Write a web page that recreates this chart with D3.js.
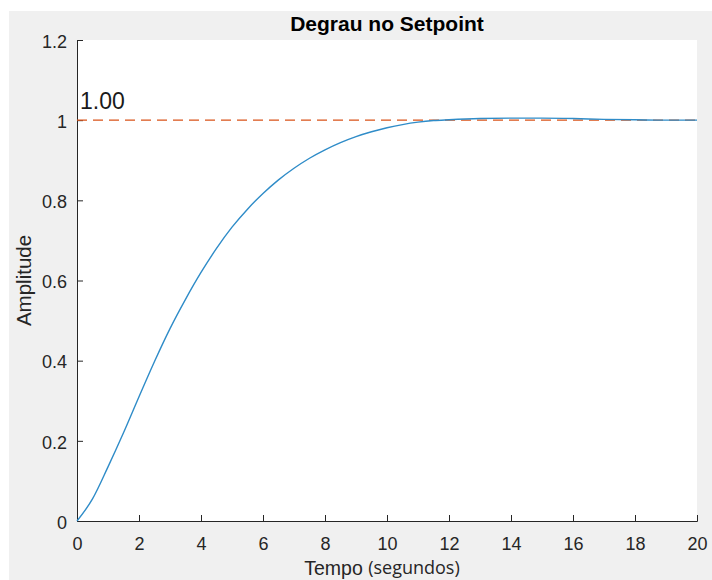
<!DOCTYPE html>
<html>
<head>
<meta charset="utf-8">
<script src="https://cdn.jsdelivr.net/npm/d3@7"></script>
<style>
  body { margin: 0; background: #fff; }
  svg { display: block; }
</style>
</head>
<body>
<div id="chart"></div>
<script>
// step response
var tempo = [0, 0.5, 1, 1.5, 2, 2.5, 3, 3.5, 4, 4.5, 5, 5.5, 6, 6.5, 7, 7.5, 8, 8.5, 9, 9.5,
  10, 10.5, 11, 11.5, 12, 13, 14, 15, 16, 17, 18, 19, 20];
var amplitude = [0, 0.055, 0.135, 0.22, 0.31, 0.398, 0.48, 0.553, 0.62, 0.68, 0.733, 0.778, 0.817,
  0.851, 0.88, 0.905, 0.926, 0.944, 0.959, 0.971, 0.981, 0.989, 0.995, 0.999, 1.001, 1.004, 1.005,
  1.005, 1.004, 1.002, 1.001, 1.0, 1.0];
var setpoint = 1.0;
var xTicks = [0, 2, 4, 6, 8, 10, 12, 14, 16, 18, 20];
var yTicks = [0, 0.2, 0.4, 0.6, 0.8, 1, 1.2];

var width = 712, height = 580;
var margin = { top: 40, right: 15, bottom: 59, left: 77 };
var innerW = width - margin.left - margin.right,
    innerH = height - margin.top - margin.bottom;
var axisColor = "#262626";
var font = "Liberation Sans, Arial, sans-serif";

var svg = d3.select("#chart").append("svg")
  .attr("width", width)
  .attr("height", height);

// figure background
svg.append("rect")
  .attr("x", 9).attr("y", 11)
  .attr("width", width - 9).attr("height", height - 11)
  .attr("fill", "#f0f0f0");

var g = svg.append("g")
  .attr("transform", "translate(" + margin.left + "," + margin.top + ")");

g.append("rect")
  .attr("width", innerW).attr("height", innerH)
  .attr("fill", "#fff");

var x = d3.scaleLinear().domain([0, 20]).range([0, innerW]);
var y = d3.scaleLinear().domain([0, 1.2]).range([innerH, 0]);

var xAxis = g.append("g")
  .attr("transform", "translate(0," + innerH + ")")
  .call(d3.axisBottom(x).tickValues(xTicks).tickSize(-6).tickPadding(16).tickFormat(d3.format("d")));
var yAxis = g.append("g")
  .call(d3.axisLeft(y).tickValues(yTicks).tickSize(-6).tickPadding(10).tickFormat(function(d) { return d3.format("~g")(d); }));

[xAxis, yAxis].forEach(function(a) {
  a.select(".domain").attr("stroke", axisColor).attr("stroke-width", 1);
  a.selectAll(".tick line").attr("stroke", axisColor);
  a.selectAll(".tick text")
    .attr("fill", axisColor)
    .style("font-family", font)
    .style("font-size", "18px");
});
yAxis.selectAll(".tick text").attr("dy", "0.4em");

// setpoint dashed line
g.append("line")
  .attr("x1", x(0)).attr("x2", x(20))
  .attr("y1", y(setpoint)).attr("y2", y(setpoint))
  .attr("stroke", "#D95319")
  .attr("stroke-width", 1.1)
  .attr("stroke-dasharray", "10,6");

var line = d3.line()
  .x(function(d, i) { return x(tempo[i]); })
  .y(function(d) { return y(d); })
  .curve(d3.curveMonotoneX);

g.append("path")
  .datum(amplitude)
  .attr("fill", "none")
  .attr("stroke", "#2f8cc8")
  .attr("stroke-width", 1.4)
  .attr("d", line);

g.append("text")
  .attr("x", x(0) + 3)
  .attr("y", y(setpoint) - 11)
  .attr("fill", "#1a1a1a")
  .style("font-family", font)
  .style("font-size", "23px")
  .text(d3.format(".2f")(setpoint));

// title
svg.append("text")
  .attr("x", margin.left + innerW / 2)
  .attr("y", 31)
  .attr("text-anchor", "middle")
  .attr("fill", "#000")
  .style("font-family", font)
  .style("font-weight", "bold")
  .style("font-size", "21px")
  .text("Degrau no Setpoint");

// y label
svg.append("text")
  .attr("transform", "translate(31," + (margin.top + innerH / 2) + ") rotate(-90)")
  .attr("text-anchor", "middle")
  .attr("fill", axisColor)
  .style("font-family", font)
  .style("font-size", "20.5px")
  .text("Amplitude");

// x label
var xl = svg.append("text")
  .attr("x", 382)
  .attr("y", 575)
  .attr("text-anchor", "middle")
  .attr("fill", axisColor);
xl.append("tspan")
  .style("font-family", font)
  .style("font-size", "19.5px")
  .text("Tempo ");
xl.append("tspan")
  .attr("dy", -1)
  .style("font-family", "Open Sans, sans-serif")
  .style("font-size", "18px")
  .text("(segundos)");
</script>
</body>
</html>
